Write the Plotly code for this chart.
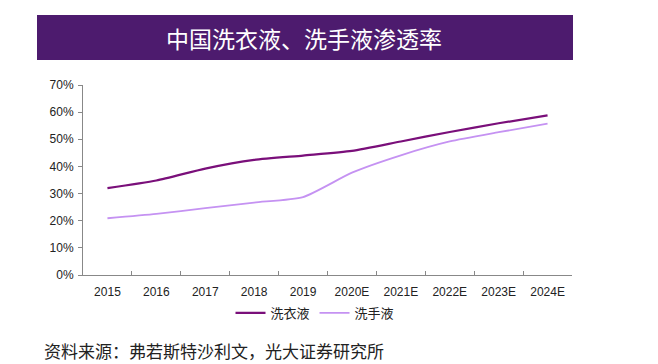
import plotly.graph_objects as go

years = ["2015", "2016", "2017", "2018", "2019", "2020E", "2021E", "2022E", "2023E", "2024E"]
laundry = [0.320, 0.348, 0.392, 0.424, 0.440, 0.457, 0.492, 0.527, 0.559, 0.588]
handwash = [0.209, 0.225, 0.246, 0.267, 0.287, 0.377, 0.441, 0.492, 0.526, 0.558]
series_names = ["洗衣液", "洗手液"]
title_text = "中国洗衣液、洗手液渗透率"
source_text = "资料来源：弗若斯特沙利文，光大证券研究所"

W, H = 658, 364
L, R, T, B = 83, 572, 85, 275

def px(x):
    return (x - L) / (R - L)

def py(y):
    return (B - y) / (B - T)

fig = go.Figure()
fig.add_trace(go.Scatter(x=years, y=laundry, name=series_names[0], mode="lines",
                         line=dict(color="#7A0F7A", width=2.2, shape="spline", smoothing=0.6)))
fig.add_trace(go.Scatter(x=years, y=handwash, name=series_names[1], mode="lines",
                         line=dict(color="#C592F2", width=1.8, shape="spline", smoothing=0.6)))

fig.update_layout(
    width=W, height=H,
    margin=dict(l=L, r=W - R, t=T, b=H - B, autoexpand=False),
    paper_bgcolor="white", plot_bgcolor="white",
    font=dict(family="Liberation Sans, Arial, sans-serif", size=12, color="#222"),
    showlegend=True,
    legend=dict(orientation="h", x=px(315), y=py(313), xanchor="center", yanchor="middle",
                font=dict(family="Noto Sans CJK SC", size=13, color="#222"),
                itemwidth=30, tracegroupgap=0, bgcolor="rgba(0,0,0,0)"),
    xaxis=dict(type="category", range=[-0.5, 9.5], showline=True, linecolor="#888", linewidth=1,
               ticks="inside", ticklen=4, tickcolor="#888", tickson="boundaries",
               showgrid=False, zeroline=False, ticklabelstandoff=6,
               tickfont=dict(size=12, color="#222")),
    yaxis=dict(range=[0, 0.7], dtick=0.1, tickformat=".0%", showline=True, linecolor="#888",
               linewidth=1, ticks="outside", ticklen=4, tickcolor="#888", showgrid=False,
               zeroline=False, ticklabelstandoff=2, tickfont=dict(size=12, color="#222")),
    shapes=[dict(type="rect", xref="paper", yref="paper",
                 x0=px(37), x1=px(573), y0=py(60), y1=py(15),
                 fillcolor="#4D1B6E", line=dict(width=0), layer="below")],
    annotations=[
        dict(text=title_text, xref="paper", yref="paper", x=px(304), y=py(38),
             xanchor="center", yanchor="middle", showarrow=False,
             font=dict(family="Noto Sans CJK SC", size=23, color="white")),
        dict(text=source_text, xref="paper", yref="paper", x=px(42), y=py(350),
             xanchor="left", yanchor="middle", showarrow=False,
             font=dict(family="Noto Sans CJK SC", size=17, color="#222")),
    ],
)

fig.write_html("out.html", config={"displayModeBar": False},
               post_script="document.body.style.margin='0';document.body.style.overflow='hidden';")
